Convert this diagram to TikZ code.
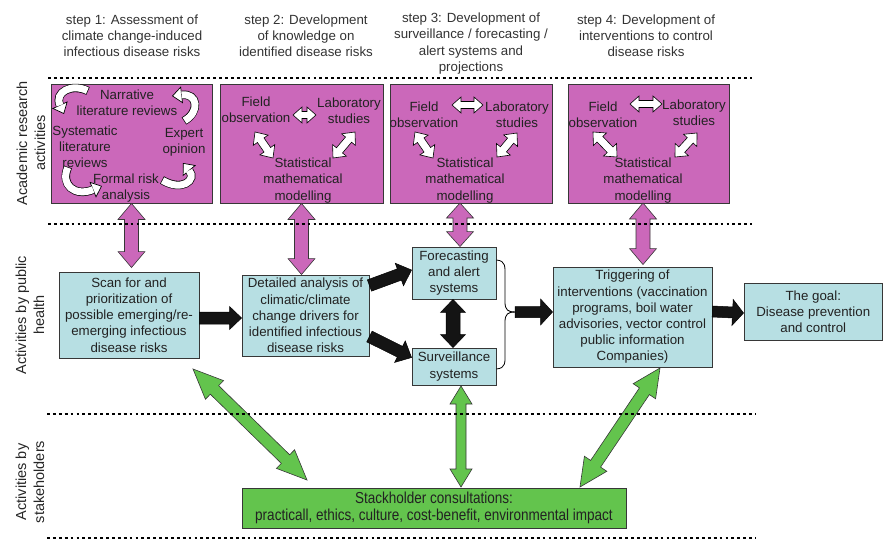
\documentclass[tikz,border=0pt]{standalone}
\usepackage{fontspec}
\setmainfont{Liberation Sans}
\newfontfamily\narrowfont[FakeStretch=0.85]{Liberation Sans}
\usetikzlibrary{calc,fit,arrows.meta}
\definecolor{mag}{RGB}{203,104,186}
\definecolor{lblue}{RGB}{183,223,227}
\definecolor{grn}{RGB}{99,196,77}
\definecolor{txt}{RGB}{34,34,34}
\definecolor{edge}{RGB}{55,55,55}
% double-headed fat arrow: style, A, B, half shaft, half head, head length
\newcommand{\dblarrow}[6]{%
  \path ($(#2)!#6!(#3)$) coordinate (da) ($(#3)!#6!(#2)$) coordinate (db);
  \draw[#1] (#2) -- ($(da)!#5!90:(#3)$) -- ($(da)!#4!90:(#3)$)
    -- ($(db)!#4!-90:(#2)$) -- ($(db)!#5!-90:(#2)$) -- (#3)
    -- ($(db)!#5!90:(#2)$) -- ($(db)!#4!90:(#2)$)
    -- ($(da)!#4!-90:(#3)$) -- ($(da)!#5!-90:(#3)$) -- cycle;}
% single-headed fat arrow
\newcommand{\sglarrow}[6]{%
  \path ($(#3)!#6!(#2)$) coordinate (db);
  \draw[#1] ($(#2)!#4!90:(#3)$) -- ($(db)!#4!-90:(#2)$) -- ($(db)!#5!-90:(#2)$)
    -- (#3) -- ($(db)!#5!90:(#2)$) -- ($(db)!#4!90:(#2)$)
    -- ($(#2)!#4!-90:(#3)$) -- cycle;}
% curved white arrow
\newcommand{\curvarrow}[1]{\draw[cwo] #1; \draw[cwi] #1;}
\begin{document}
\begin{tikzpicture}[x=1pt,y=-1pt,
  every node/.style={text=txt, font=\fontsize{13.3}{16.2}\selectfont},
  title/.style={align=center, inner sep=0pt, text=black!80},
  side/.style={align=center, inner sep=0pt, rotate=90, text=black!85,
    font=\fontsize{14.5}{18}\selectfont},
  intext/.style={align=center, inner sep=0pt},
  magbox/.style={draw=edge, fill=mag, line width=0.9pt, inner sep=0pt},
  pbox/.style={draw=edge, fill=lblue, line width=0.9pt, inner sep=0pt, align=center},
  sbox/.style={draw=edge, fill=grn, line width=0.9pt, inner sep=0pt, align=center,
    font=\narrowfont\fontsize{15.9}{17}\selectfont},
  magarr/.style={fill=mag, draw=edge, line width=0.6pt},
  blkarr/.style={fill=black!92, draw=black, line width=0.5pt},
  grnarr/.style={fill=grn, draw=edge, line width=0.6pt},
  whtarr/.style={fill=white, draw=black, line width=0.6pt},
  cwo/.style={line width=8.4pt, black,
    -{Triangle[width=17pt,length=10pt,line width=0.7pt,fill=white]}},
  cwi/.style={line width=7pt, white, shorten >=9.6pt, shorten <=0.7pt},
  dotline/.style={line width=2.6pt, dash pattern=on 2.8pt off 3.1pt, black}]
\useasboundingbox (0,0) rectangle (883,540);

% step titles
\node[title] (t1) at (132,35.5) {step 1: Assessment of\\climate change-induced\\infectious disease risks};
\node[title] (t2) at (306,35.5) {step 2: Development\\of knowledge on\\identified disease risks};
\node[title] (t3) at (471,43.5) {step 3: Development of\\surveillance / forecasting /\\alert systems and\\projections};
\node[title] (t4) at (646,35.5) {step 4: Development of\\interventions to control\\disease risks};

% side labels
\node[side] (l1) at (31,143) {Academic research\\activities};
\node[side] (l2) at (30,315) {Activities by public\\health};
\node[side] (l3) at (30,482) {Activities by\\stakeholders};

% academic boxes
\node[magbox, fit={(51,84)(212,203)}] (box1) {};
\node[magbox, fit={(220,84)(383,203)}] (box2) {};
\node[magbox, fit={(390,84)(552,203)}] (box3) {};
\node[magbox, fit={(568,84)(729,203)}] (box4) {};

% box 1 contents
\node[intext] (n11) at (127,102.5) {Narrative\\literature reviews};
\node[intext] (n12) at (85,146.5) {Systematic\\literature\\reviews};
\node[intext] (n13) at (184,142) {Expert\\opinion};
\node[intext] (n14) at (126,188) {Formal risk\\analysis};
\curvarrow{(88,91) .. controls (72,83) and (54,92) .. (64,114)}
\curvarrow{(184,121) .. controls (200,112) and (198,93) .. (172,96)}
\curvarrow{(162,180) .. controls (182,192) and (197,180) .. (183,163)}
\curvarrow{(68,167) .. controls (60,185) and (75,197) .. (102,186)}

% box 2 contents
\node[intext] (n21) at (256,109.5) {Field\\observation};
\node[intext] (n22) at (349,110.5) {Laboratory\\studies};
\node[intext] (n23) at (303,180.5) {Statistical\\mathematical\\modelling};
\coordinate (w2a) at (293,115); \coordinate (w2b) at (316,115);
\coordinate (w2c) at (255,132); \coordinate (w2d) at (273,158);
\coordinate (w2e) at (355,132); \coordinate (w2f) at (333,158);
\dblarrow{whtarr}{w2a}{w2b}{3.5pt}{8pt}{9pt}
\dblarrow{whtarr}{w2c}{w2d}{4pt}{9pt}{10pt}
\dblarrow{whtarr}{w2e}{w2f}{4pt}{9pt}{10pt}

% box 3 contents
\node[intext] (n31) at (424,114.5) {Field\\observation};
\node[intext] (n32) at (517,114.5) {Laboratory\\studies};
\node[intext] (n33) at (465,180.5) {Statistical\\mathematical\\modelling};
\coordinate (w3a) at (452,105); \coordinate (w3b) at (483,105);
\coordinate (w3c) at (415,132); \coordinate (w3d) at (433,158);
\coordinate (w3e) at (517,133); \coordinate (w3f) at (497,157);
\dblarrow{whtarr}{w3a}{w3b}{3.5pt}{8pt}{9pt}
\dblarrow{whtarr}{w3c}{w3d}{4pt}{9pt}{10pt}
\dblarrow{whtarr}{w3e}{w3f}{4pt}{9pt}{10pt}

% box 4 contents
\node[intext] (n41) at (603,114.5) {Field\\observation};
\node[intext] (n42) at (694,112.5) {Laboratory\\studies};
\node[intext] (n43) at (643,180.5) {Statistical\\mathematical\\modelling};
\coordinate (w4a) at (630,104); \coordinate (w4b) at (662,104);
\coordinate (w4c) at (593,132); \coordinate (w4d) at (617,157);
\coordinate (w4e) at (697,133); \coordinate (w4f) at (675,157);
\dblarrow{whtarr}{w4a}{w4b}{3.5pt}{8pt}{9pt}
\dblarrow{whtarr}{w4c}{w4d}{4pt}{9pt}{10pt}
\dblarrow{whtarr}{w4e}{w4f}{4pt}{9pt}{10pt}

% public health boxes
\node[pbox, minimum width=140pt, minimum height=86pt] (scan) at (129,315) {Scan for and\\prioritization of\\possible emerging/re-\\emerging infectious\\disease risks};
\node[pbox, minimum width=127pt, minimum height=81pt] (detail) at (305.5,315.5) {Detailed analysis of\\climatic/climate\\change drivers for\\identified infectious\\disease risks};
\node[pbox, minimum width=84pt, minimum height=52pt] (fore) at (454,273) {Forecasting\\and alert\\systems};
\node[pbox, minimum width=84pt, minimum height=37pt] (surv) at (454,366.5) {Surveillance\\systems};
\node[pbox, minimum width=159pt, minimum height=100pt] (trig) at (632.5,317) {Triggering of\\interventions (vaccination\\programs, boil water\\advisories, vector control\\public information\\Companies)};
\node[pbox, minimum width=138.5pt, minimum height=57pt] (goal) at (813.25,311.5) {The goal:\\Disease prevention\\and control};

% stakeholder box
\node[sbox, minimum width=384pt, minimum height=40pt] (stake) at (434,508) {Stackholder consultations:\\practicall, ethics, culture, cost-benefit, environmental impact};

% magenta connectors
\coordinate (m1a) at (box1.south); \coordinate (m1b) at ($(box1.south |- scan.north)+(0,-4)$);
\coordinate (m2a) at (box2.south); \coordinate (m2b) at (box2.south |- detail.north);
\coordinate (m3a) at (460,203); \coordinate (m3b) at (fore.north -| m3a);
\coordinate (m4a) at (643,203); \coordinate (m4b) at ($(trig.north -| m4a)+(0,-2)$);
\dblarrow{magarr}{m1a}{m1b}{7pt}{13.5pt}{16pt}
\dblarrow{magarr}{m2a}{m2b}{7pt}{13.5pt}{16pt}
\dblarrow{magarr}{m3a}{m3b}{7pt}{13.5pt}{15pt}
\dblarrow{magarr}{m4a}{m4b}{7pt}{13.5pt}{16pt}

% black connectors
\coordinate (k1a) at ($(scan.east)+(0,3)$); \coordinate (k1b) at ($(detail.west)+(0,2.5)$);
\sglarrow{blkarr}{k1a}{k1b}{6pt}{11.5pt}{12pt}
\coordinate (k2a) at ($(detail.east)+(0,-30)$); \coordinate (k2b) at ($(fore.west)+(0,-3)$);
\sglarrow{blkarr}{k2a}{k2b}{6pt}{12pt}{13pt}
\coordinate (k3a) at ($(detail.east)+(0,21)$); \coordinate (k3b) at ($(surv.west)+(0,-9)$);
\sglarrow{blkarr}{k3a}{k3b}{6pt}{12pt}{13pt}
\coordinate (k4a) at ($(fore.south)+(-1,0)$); \coordinate (k4b) at ($(surv.north)+(-1,0)$);
\dblarrow{blkarr}{k4a}{k4b}{7pt}{12.5pt}{13pt}
\coordinate (brace) at (515,312);
\draw[line width=0.8pt, black] ($(fore.east)+(0,-13)$) .. controls (506,261) and (505,266) .. (505,278)
   -- (505,302) .. controls (505,310) and (508,312) .. (brace);
\draw[line width=0.8pt, black] ($(surv.east)+(0,2.5)$) .. controls (506,368) and (505,363) .. (505,352)
   -- (505,322) .. controls (505,314) and (508,312) .. (brace);
\coordinate (k5b) at (trig.west |- brace);
\sglarrow{blkarr}{brace}{k5b}{5.5pt}{13pt}{12pt}
\coordinate (k6a) at (goal.west -| trig.east); \coordinate (k6b) at ($(goal.west)+(0,1.5)$);
\sglarrow{blkarr}{k6a}{k6b}{5.5pt}{13pt}{11pt}

% green connectors
\coordinate (g1a) at (193,369); \coordinate (g1b) at (307,480);
\dblarrow{grnarr}{g1a}{g1b}{6pt}{13pt}{30pt}
\coordinate (g2a) at (461,386); \coordinate (g2b) at (461,487);
\dblarrow{grnarr}{g2a}{g2b}{5pt}{11pt}{18pt}
\coordinate (g3a) at (660,368); \coordinate (g3b) at (580,487);
\dblarrow{grnarr}{g3a}{g3b}{6pt}{13.5pt}{28pt}

% dotted separators
\draw[dotline] (48,78) -- (752,78);
\draw[dotline] (48,224) -- (752,224);
\draw[dotline] (47,414) -- (756,414);
\draw[dotline] (47,538) -- (756,538);
\end{tikzpicture}
\end{document}
